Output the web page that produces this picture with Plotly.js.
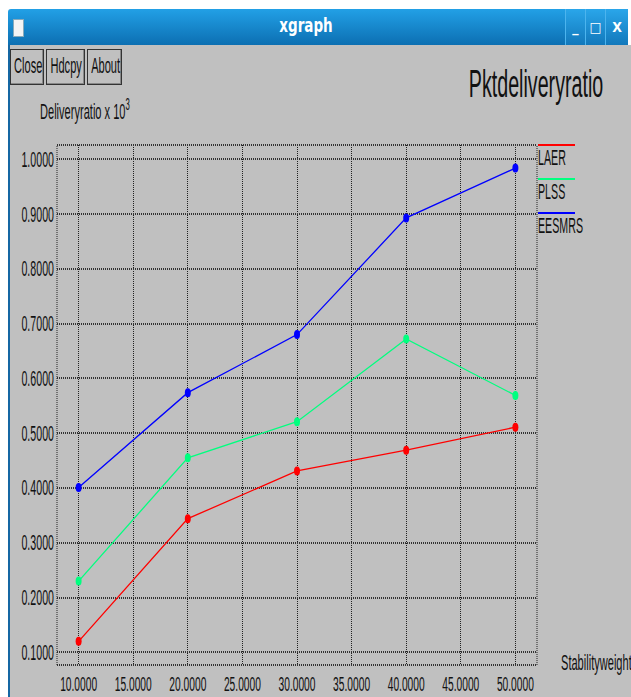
<!DOCTYPE html>
<html><head><meta charset="utf-8">
<script src="https://cdn.plot.ly/plotly-3.0.1.min.js"></script>
<style>
html,body{margin:0;padding:0;width:631px;height:697px;overflow:hidden;background:#ffffff;}
#titlebar{position:absolute;left:8px;top:9px;width:619px;height:36px;background:linear-gradient(#22a0e6,#0c6fb2);border-radius:3px 3px 0 0;}
#titletext{position:absolute;left:248px;top:8px;width:100px;text-align:center;color:#fff;font-family:"DejaVu Sans Condensed","DejaVu Sans",sans-serif;font-weight:bold;font-size:15px;transform:scaleY(1.25);}
#icon{position:absolute;left:5px;top:10px;width:9px;height:16px;background:#f4f4f4;border:1px solid #8ab;}
.wbtn{position:absolute;top:0;width:19px;height:36px;background:linear-gradient(#2aa6ea,#1278bb);border-left:1px solid #4cb4ee;color:#fff;font-family:"DejaVu Sans Condensed",sans-serif;font-weight:bold;font-size:14px;text-align:center;line-height:36px;}
#body{position:absolute;left:8px;top:45px;width:621px;height:652px;background:#c0c0c0;border-left:2px solid #1567a3;}
.btn{position:absolute;top:49px;height:34px;border:1px solid #333;box-shadow:inset -1px -1px 0 #888;background:#c0c0c0;font-family:"Liberation Sans",Arial,sans-serif;font-size:13.5px;color:#111;text-align:center;line-height:34px;white-space:nowrap;}
.btn span{display:inline-block;transform:scale(0.82,1.6);}
#plot{position:absolute;left:0;top:0;width:631px;height:697px;}
</style></head>
<body>
<div id="titlebar">
  <div id="icon"></div>
  <div id="titletext">xgraph</div>
  <div class="wbtn" style="left:557px;">_</div>
  <div class="wbtn" style="left:577px;">&#9633;</div>
  <div class="wbtn" style="left:597px;width:22px;">X</div>
</div>
<div id="body"></div>
<div class="btn" style="left:10px;width:32px;"><span>Close</span></div>
<div class="btn" style="left:46px;width:37px;"><span>Hdcpy</span></div>
<div class="btn" style="left:87px;width:33px;"><span>About</span></div>
<div id="plot"></div>
<script>
// ---- data ----
const xValues = [10, 20, 30, 40, 50];
const seriesNames = ['LAER', 'PLSS', 'EESMRS'];
const laerValues = [0.120, 0.344, 0.431, 0.469, 0.511];
const plssValues = [0.230, 0.455, 0.521, 0.672, 0.569];
const eesmrsValues = [0.401, 0.574, 0.680, 0.893, 0.984];
const seriesColors = ['#ff0000', '#00ff7f', '#0000ff'];
const xTickVals = [10, 15, 20, 25, 30, 35, 40, 45, 50];
const xTickText = ['10.0000','15.0000','20.0000','25.0000','30.0000','35.0000','40.0000','45.0000','50.0000'];
const yTickVals = [0.1, 0.2, 0.3, 0.4, 0.5, 0.6, 0.7, 0.8, 0.9, 1.0];
const yTickText = ['0.1000','0.2000','0.3000','0.4000','0.5000','0.6000','0.7000','0.8000','0.9000','1.0000'];
const chartTitle = 'Pktdeliveryratio';
const yLabel = 'Deliveryratio x 10<sup>3</sup>';
const xLabel = 'Stabilityweight';

// ---- layout helpers ----
const W = 631, H = 697;
const L = 57, R = 537, T = 145, B = 665;
const fx = px => (px - L) / (R - L);
const fy = py => (B - py) / (B - T);
const FONT = '"Liberation Sans", Arial, sans-serif';
const SX = 0.82, SY = 1.65;

const seriesValues = [laerValues, plssValues, eesmrsValues];
const data = seriesNames.map((n, i) => ({
  type: 'scatter', mode: 'lines+markers', name: n,
  x: xValues, y: seriesValues[i],
  line: {color: seriesColors[i], width: 1.3},
  marker: {color: seriesColors[i], size: 6, symbol: 'circle'},
  cliponaxis: false
}));

const gridDash = '1px,1px';
const shapes = [
  {type:'line', xref:'paper', yref:'paper', x0:0, x1:1, y0:1, y1:1, line:{color:'#333', width:2, dash:gridDash}},
  {type:'line', xref:'paper', yref:'paper', x0:0, x1:1, y0:0, y1:0, line:{color:'#333', width:2, dash:gridDash}},
  {type:'line', xref:'paper', yref:'paper', x0:0, x1:0, y0:0, y1:1, line:{color:'#222', width:1, dash:gridDash}},
  {type:'line', xref:'paper', yref:'paper', x0:1, x1:1, y0:0, y1:1, line:{color:'#222', width:1, dash:gridDash}}
];
const legendLineY = [145, 179, 213];
const annotations = [
  {text: chartTitle, xref:'paper', yref:'paper', x: fx(535.5), y: fy(82), xanchor:'center', yanchor:'middle', showarrow:false, font:{family:FONT, size:24, color:'#111'}},
  {text: yLabel, xref:'paper', yref:'paper', x: fx(38), y: fy(110), xanchor:'left', yanchor:'middle', showarrow:false, font:{family:FONT, size:13.5, color:'#111'}},
  {text: xLabel, xref:'paper', yref:'paper', x: fx(559), y: fy(662), xanchor:'left', yanchor:'middle', showarrow:false, font:{family:FONT, size:13.5, color:'#111'}}
];
seriesNames.forEach((n, i) => {
  shapes.push({type:'line', xref:'paper', yref:'paper', x0: fx(538), x1: fx(575), y0: fy(legendLineY[i]), y1: fy(legendLineY[i]), line:{color: seriesColors[i], width: 2}});
  annotations.push({text: n, xref:'paper', yref:'paper', x: fx(536), y: fy(legendLineY[i] + 12), xanchor:'left', yanchor:'middle', showarrow:false, font:{family:FONT, size:13, color:'#111'}});
});

const layout = {
  width: W, height: H,
  margin: {l: L, r: W - R, t: T, b: H - B, pad: 0},
  paper_bgcolor: 'rgba(0,0,0,0)', plot_bgcolor: 'rgba(0,0,0,0)',
  showlegend: false,
  font: {family: FONT, size: 13, color: '#111'},
  xaxis: {range: [8.02, 51.98], tickvals: xTickVals, ticktext: xTickText, showgrid: true, gridcolor: '#222', gridwidth: 1, griddash: gridDash,
          zeroline: false, showline: false, ticks: '', ticklabelstandoff: 10, tickfont: {family: FONT, size: 12.5, color: '#111'}},
  yaxis: {range: [0.0768, 1.0261], tickvals: yTickVals, ticktext: yTickText, showgrid: true, gridcolor: '#333', gridwidth: 2, griddash: gridDash,
          zeroline: false, showline: false, ticks: '', ticklabelstandoff: 2, tickfont: {family: FONT, size: 13, color: '#111'}},
  shapes: shapes,
  annotations: annotations
};

function squeeze(t, anchor) {
  if (!t) return;
  const b = t.getBBox();
  if (!b.width) return;
  const ax = anchor === 'left' ? b.x : anchor === 'right' ? b.x + b.width : b.x + b.width / 2;
  const cy = b.y + b.height / 2;
  const tr = t.getAttribute('transform') || '';
  t.setAttribute('transform', tr + ' translate(' + ax + ',' + cy + ') scale(' + SX + ',' + SY + ') translate(' + (-ax) + ',' + (-cy) + ')');
}

const gd = document.getElementById('plot');
Plotly.newPlot(gd, data, layout, {staticPlot: true, displayModeBar: false}).then(() => {
  gd.querySelectorAll('g.annotation').forEach(g => {
    const i = +g.getAttribute('data-index');
    squeeze(g.querySelector('text'), layout.annotations[i].xanchor);
  });
  gd.querySelectorAll('.xtick text').forEach(t => squeeze(t, 'center'));
  gd.querySelectorAll('.ytick text').forEach(t => squeeze(t, 'right'));
  gd.querySelectorAll('path.point').forEach(p => {
    const tr = p.getAttribute('transform') || '';
    p.setAttribute('transform', tr + ' scale(1,1.5)');
  });
});
</script>
</body></html>
